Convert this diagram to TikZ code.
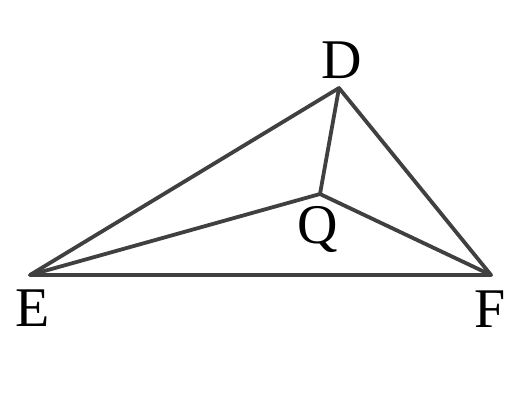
\documentclass[tikz,border=0pt]{standalone}
\usepackage{fontspec}
\setmainfont{Liberation Serif}
\begin{document}
\begin{tikzpicture}[x=1pt,y=-1pt,
  edge/.style={draw=black!75, line width=3.8pt, line join=round, line cap=round},
  lbl/.style={font=\fontsize{56}{60}\selectfont, anchor=base, inner sep=0pt}]
\useasboundingbox (0,0) rectangle (505,400);
\coordinate (D) at (339,88);
\coordinate (E) at (30,275);
\coordinate (F) at (491,275);
\coordinate (Q) at (320,194);
\draw[edge] (E) -- (D) -- (F) -- cycle;
\draw[edge] (E) -- (Q) -- (F);
\draw[edge] (D) -- (Q);
\node[lbl] (lD) at (342,78) {D};
\node[lbl] (lQ) at (318,243) {Q};
\node[lbl] (lE) at (33,326) {E};
\node[lbl] (lF) at (490,327) {F};
\end{tikzpicture}
\end{document}
